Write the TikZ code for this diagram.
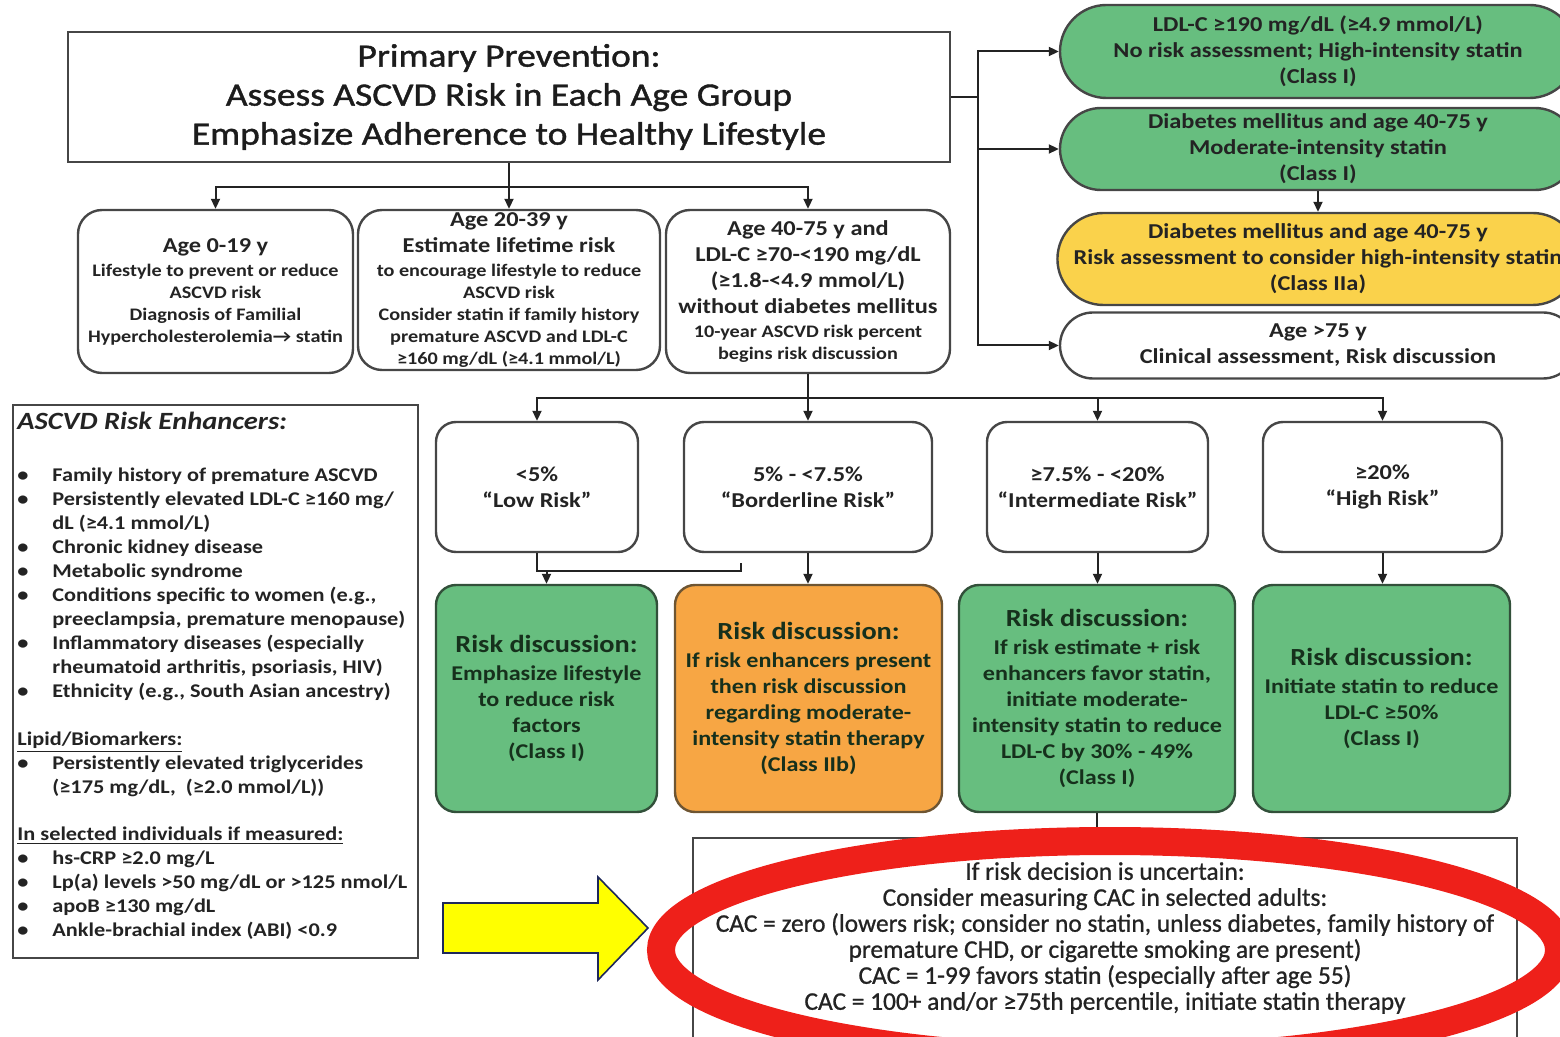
\documentclass[tikz,border=0pt]{standalone}
\usepackage{fontspec}
\setmainfont{Carlito}[FakeStretch=1.15]
\newfontfamily\cacfont{Carlito}[FakeBold=0.8]
\newfontfamily\headfont{Carlito}[FakeStretch=1.15, FakeBold=1.2]
\usepackage{xcolor}
\usetikzlibrary{arrows.meta,shapes.misc}

\definecolor{boxline}{RGB}{70,70,70}
\definecolor{ink}{RGB}{35,35,35}
\definecolor{statgreen}{RGB}{103,190,127}
\definecolor{greenline}{RGB}{50,80,58}
\definecolor{greenink}{RGB}{22,48,28}
\definecolor{iibOrange}{RGB}{247,166,68}
\definecolor{orangeline}{RGB}{110,85,50}
\definecolor{iiaYellow}{RGB}{250,210,75}
\definecolor{markRed}{RGB}{238,32,26}
\definecolor{pointYellow}{RGB}{255,255,0}
\definecolor{pointNavy}{RGB}{30,40,90}

\newcommand{\titlesize}{\headfont\fontsize{16.3}{19.5}\selectfont}
\newcommand{\agebig}{\fontsize{10.6}{13}\selectfont\bfseries}
\newcommand{\agesmall}{\fontsize{8.8}{11}\selectfont\bfseries}
\newcommand{\rdhead}{\fontsize{12.3}{14}\selectfont\bfseries}
\newcommand{\rdbody}{\fontsize{10.5}{13}\selectfont\bfseries}
\newcommand{\enhsize}{\fontsize{9.7}{12}\selectfont\bfseries}
\newcommand{\enhhead}{\fontsize{12.4}{14}\selectfont\bfseries\itshape}
\newcommand{\cacsize}{\cacfont\fontsize{12.7}{13}\selectfont}
\newcommand{\bul}{\makebox[17.5pt][l]{•}}
\newcommand{\ind}{\hspace*{17.5pt}}

\begin{document}
\begin{tikzpicture}[x=0.5pt, y=-0.5pt,
    link/.style={draw=ink, line width=1pt},
    arr/.style={link, -{Triangle[length=5pt,width=4.5pt]}},
    titlebox/.style={draw=boxline, line width=1.3pt, fill=white, align=center, inner sep=0pt,
        minimum width=441pt, minimum height=65pt, font=\titlesize, text=ink!80!black},
    agebox/.style={draw=boxline, line width=1.2pt, rounded corners=12pt, align=center, inner sep=0pt,
        minimum height=81.5pt, font=\agesmall, text=ink},
    pill/.style={rounded rectangle, draw=boxline, line width=1.2pt, align=center, inner sep=0pt,
        minimum width=258pt, font=\agebig, text=ink},
    riskbox/.style={draw=boxline, line width=1.2pt, rounded corners=10pt, align=center, inner sep=0pt,
        minimum height=65pt, font=\agebig, text=ink},
    talkbox/.style={draw=greenline, fill=statgreen, line width=1.2pt, rounded corners=10pt, align=center,
        inner sep=0pt, minimum height=113.5pt, font=\rdbody, text=greenink},
    plainbox/.style={draw=boxline, line width=1.2pt, inner sep=0pt},
    ring/.style={draw=markRed, line width=14pt},
    pointer/.style={fill=pointYellow, draw=pointNavy, line width=0.8pt, line join=miter}]

    \useasboundingbox (0,0) rectangle (1560,1037);
    \clip (0,0) rectangle (1560,1037);

    \node[titlebox] (prev) at (509,97) {Primary Prevention:\\Assess ASCVD Risk in Each Age Group\\Emphasize Adherence to Healthy Lifestyle};

    \node[agebox, minimum width=137.5pt] (age0) at (215.5,291.5)
        {{\agebig Age 0-19 y}\\[1pt] Lifestyle to prevent or reduce\\ ASCVD risk\\ Diagnosis of Familial\\ Hypercholesterolemia→ statin};
    \node[agebox, minimum width=151pt, minimum height=80pt] (age20) at (509,290)
        {{\agebig Age 20-39 y}\\[2pt] {\agebig Estimate lifetime risk}\\[1pt] to encourage lifestyle to reduce\\ ASCVD risk\\
         Consider statin if family history\\ premature ASCVD and LDL-C\\ ≥160 mg/dL (≥4.1 mmol/L)};
    \node[agebox, minimum width=142pt] (age40) at (808,291.5)
        {{\agebig Age 40-75 y and}\\[2pt] {\agebig LDL-C ≥70-<190 mg/dL}\\[2pt] {\agebig (≥1.8-<4.9 mmol/L)}\\[2pt]
         {\agebig without diabetes mellitus}\\[1pt] 10-year ASCVD risk percent\\ begins risk discussion};

    \node[pill, fill=statgreen, minimum height=46.5pt] (ldl190) at (1318,51.5)
        {LDL-C ≥190 mg/dL (≥4.9 mmol/L)\\ No risk assessment; High-intensity statin\\ (Class I)};
    \node[pill, fill=statgreen, minimum height=41pt] (dmmod) at (1318,149)
        {Diabetes mellitus and age 40-75 y\\ Moderate-intensity statin\\ (Class I)};
    \node[pill, fill=iiaYellow, minimum height=46pt] (dmhigh) at (1318,259)
        {Diabetes mellitus and age 40-75 y\\ Risk assessment to consider high-intensity statin\\ (Class IIa)};
    \node[pill, fill=white, minimum height=33pt] (over75) at (1318,345.5)
        {Age >75 y\\ Clinical assessment, Risk discussion};

    \node[riskbox, minimum width=101pt] (low) at (537,487) {<5\%\\ “Low Risk”};
    \node[riskbox, minimum width=124pt] (border) at (808,487) {5\% - <7.5\%\\ “Borderline Risk”};
    \node[riskbox, minimum width=110.5pt] (interm) at (1097.5,487) {≥7.5\% - <20\%\\ “Intermediate Risk”};
    \node[riskbox, minimum width=119.5pt] (high) at (1382.5,487) {≥20\%\\ “High Risk”};

    \node[talkbox, minimum width=110.5pt] (lowtalk) at (546.5,698.5)
        {{\rdhead Risk discussion:}\\[1pt] Emphasize lifestyle\\ to reduce risk\\ factors\\ (Class I)};
    \node[talkbox, fill=iibOrange, draw=orangeline, minimum width=133.5pt] (bordertalk) at (808.5,698.5)
        {{\rdhead Risk discussion:}\\[1pt] If risk enhancers present\\ then risk discussion\\ regarding moderate-\\ intensity statin therapy\\ (Class IIb)};
    \node[talkbox, minimum width=138pt] (intermtalk) at (1097,698.5)
        {{\rdhead Risk discussion:}\\[1pt] If risk estimate + risk\\ enhancers favor statin,\\ initiate moderate-\\ intensity statin to reduce\\ LDL-C by 30\% - 49\%\\ (Class I)};
    \node[talkbox, minimum width=128.5pt] (hightalk) at (1381.5,698.5)
        {{\rdhead Risk discussion:}\\[1pt] Initiate statin to reduce\\ LDL-C ≥50\%\\ (Class I)};

    \node[plainbox, minimum width=202.5pt, minimum height=276.5pt] (enhbox) at (215.5,681.5) {};
    \node[anchor=north west, align=left, inner sep=0pt, font=\enhsize, text=ink] (enhtext) at (17,412)
        {{\enhhead ASCVD Risk Enhancers:}\\[14pt]
         \bul Family history of premature ASCVD\\
         \bul Persistently elevated LDL-C ≥160 mg/\\
         \ind dL (≥4.1 mmol/L)\\
         \bul Chronic kidney disease\\
         \bul Metabolic syndrome\\
         \bul Conditions specific to women (e.g.,\\
         \ind preeclampsia, premature menopause)\\
         \bul Inflammatory diseases (especially\\
         \ind rheumatoid arthritis, psoriasis, HIV)\\
         \bul Ethnicity (e.g., South Asian ancestry)\\[12pt]
         \underline{Lipid/Biomarkers:}\\
         \bul Persistently elevated triglycerides\\
         \ind (≥175 mg/dL,\ \ (≥2.0 mmol/L))\\[11.5pt]
         \underline{In selected individuals if measured:}\\
         \bul hs-CRP ≥2.0 mg/L\\
         \bul Lp(a) levels >50 mg/dL or >125 nmol/L\\
         \bul apoB ≥130 mg/dL\\
         \bul Ankle-brachial index (ABI) <0.9};

    \node[plainbox, fill=white, minimum width=412pt, minimum height=100pt, align=center, font=\cacsize, text=ink] (cac) at (1105,938)
        {If risk decision is uncertain:\\ Consider measuring CAC in selected adults:\\
         CAC = zero (lowers risk; consider no statin, unless diabetes, family history of\\
         premature CHD, or cigarette smoking are present)\\
         CAC = 1-99 favors statin (especially after age 55)\\
         CAC = 100+ and/or ≥75th percentile, initiate statin therapy};

    \coordinate (agesplit) at (509,187);
    \coordinate (sidesplit) at (978,97);
    \coordinate (risksplit) at (808,398);
    \coordinate (lowfoot) at (537,571);
    \coordinate (hookend) at (741,563);

    \draw[link] (prev.south) -- (agesplit);
    \draw[arr] (agesplit) -| (age0.north);
    \draw[arr] (agesplit) -- (age20.north);
    \draw[arr] (agesplit) -| (age40.north);

    \draw[link] (prev.east) -- (sidesplit);
    \draw[arr] (sidesplit) |- (ldl190.west);
    \draw[arr] (sidesplit) |- (dmmod.west);
    \draw[arr] (sidesplit) |- (over75.west);
    \draw[arr] (dmmod.south) -- (dmhigh.north);

    \draw[link] (age40.south) -- (risksplit);
    \draw[arr] (risksplit) -| (low.north);
    \draw[arr] (risksplit) -- (border.north);
    \draw[arr] (risksplit) -| (interm.north);
    \draw[arr] (risksplit) -| (high.north);

    \draw[link] (low.south) -- (lowfoot) -- (hookend |- lowfoot) -- (hookend);
    \draw[arr] (lowtalk.north |- lowfoot) -- (lowtalk.north);
    \draw[arr] (border.south) -- (border.south |- bordertalk.north);
    \draw[arr] (interm.south) -- (interm.south |- intermtalk.north);
    \draw[arr] (high.south) -- (high.south |- hightalk.north);
    \draw[link] (intermtalk.south) -- (intermtalk.south |- cac.north);

    \draw[pointer] (443,903) -- (598,903) -- (598,877) -- (648,928) -- (598,980) -- (598,953) -- (443,953) -- cycle;
    \coordinate (ringmid) at (1110,950);
    \draw[ring] (ringmid) ellipse [x radius=224.5pt, y radius=54.5pt];

\end{tikzpicture}
\end{document}
